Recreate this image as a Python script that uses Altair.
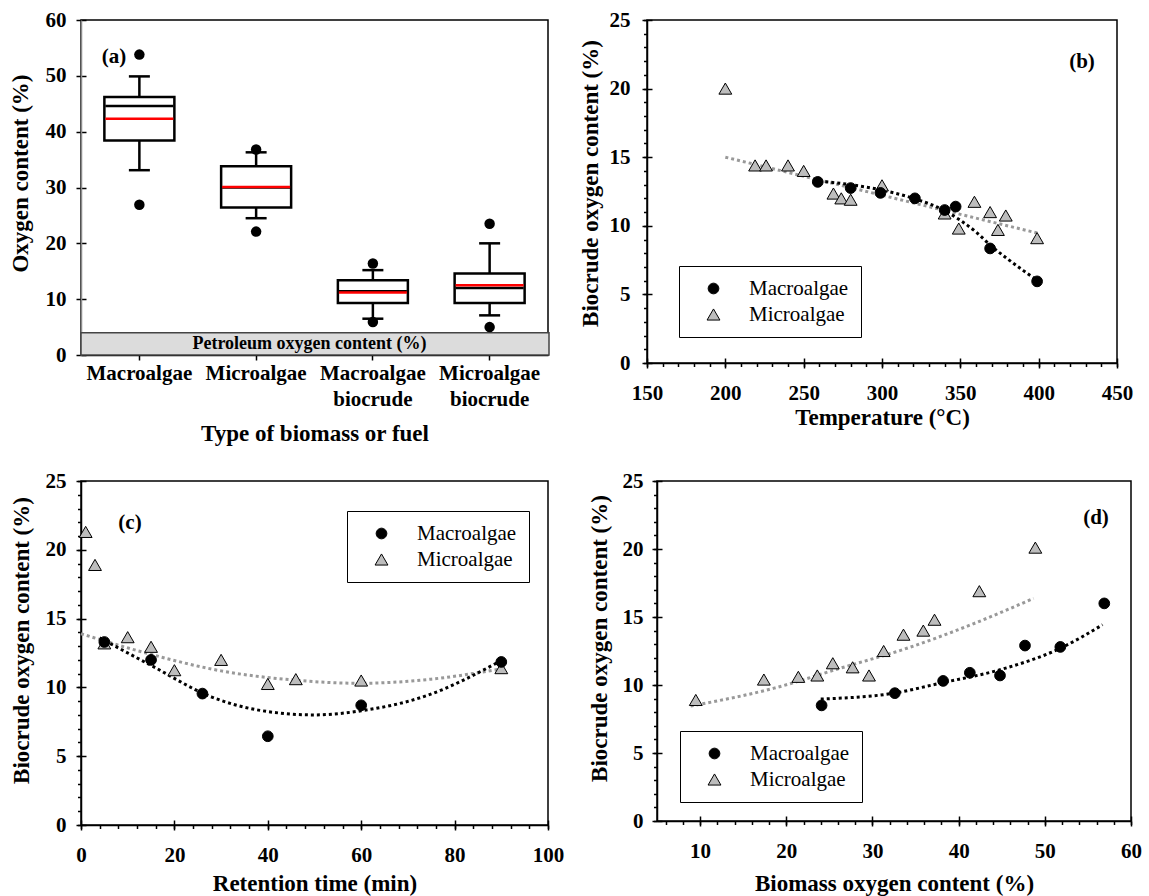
import altair as alt
import pandas as pd

FONT = "Liberation Serif"

# ---------------- Panel (a): box plots ----------------
categories = ["Macroalgae", "Microalgae", "Macroalgae biocrude", "Microalgae biocrude"]
box_q1 = [38.4, 26.4, 9.3, 9.3]
box_q3 = [46.2, 33.8, 13.4, 14.6]
box_median = [44.6, 30.0, 11.4, 12.0]
box_mean = [42.3, 30.1, 11.2, 12.5]
whisker_low = [33.1, 24.5, 6.5, 7.1]
whisker_high = [49.9, 36.3, 15.2, 20.0]
outlier_cat = ["Macroalgae", "Macroalgae", "Microalgae", "Microalgae",
               "Macroalgae biocrude", "Macroalgae biocrude",
               "Microalgae biocrude", "Microalgae biocrude"]
outlier_val = [53.8, 26.9, 36.8, 22.1, 16.4, 5.9, 23.5, 5.0]
petroleum_range = [0, 4]
a_yticks = [0, 10, 20, 30, 40, 50, 60]

# ---------------- Panel (b): temperature ----------------
b_macro_x = [259, 280, 299, 321, 340, 347, 369, 399]
b_macro_y = [13.2, 12.75, 12.4, 12.0, 11.15, 11.4, 8.35, 5.95]
b_micro_x = [200, 219, 226, 240, 250, 269, 274, 280, 300, 340, 349, 359, 369, 374, 379, 399]
b_micro_y = [20.0, 14.4, 14.4, 14.4, 14.0, 12.35, 12.0, 11.9, 12.95, 10.9, 9.8, 11.75, 11.0, 9.7, 10.75, 9.1]
b_trend_micro_x = [200, 400]
b_trend_micro_y = [15.0, 9.45]
b_trend_macro_x = [260, 280, 300, 320, 340, 350, 360, 370, 380, 390, 400]
b_trend_macro_y = [13.25, 13.0, 12.6, 12.0, 11.1, 10.4, 9.55, 8.5, 7.6, 6.75, 5.95]
b_xticks = [150, 200, 250, 300, 350, 400, 450]
b_xminor = list(range(150, 451, 10))

# ---------------- Panel (c): retention time ----------------
c_macro_x = [5, 15, 26, 40, 60, 90]
c_macro_y = [13.3, 12.0, 9.55, 6.45, 8.7, 11.85]
c_micro_x = [1, 3, 5, 10, 15, 20, 30, 40, 46, 60, 90]
c_micro_y = [21.3, 18.9, 13.2, 13.65, 12.95, 11.25, 12.0, 10.25, 10.6, 10.5, 11.4]
c_trend_micro_x = [0, 15, 30, 45, 60, 75, 90]
c_trend_micro_y = [13.9, 12.4, 11.2, 10.55, 10.3, 10.6, 11.35]
c_trend_macro_x = [4, 15, 28, 38, 50, 60, 74, 90]
c_trend_macro_y = [13.6, 11.6, 9.3, 8.35, 8.0, 8.3, 9.4, 11.95]
c_xticks = [0, 20, 40, 60, 80, 100]
c_xminor = list(range(0, 101, 4))

# ---------------- Panel (d): biomass oxygen ----------------
d_macro_x = [24.1, 32.6, 38.2, 41.3, 44.8, 47.7, 51.8, 56.9]
d_macro_y = [8.5, 9.4, 10.3, 10.9, 10.7, 12.9, 12.8, 16.0]
d_micro_x = [9.5, 17.4, 21.4, 23.6, 25.4, 27.7, 29.6, 31.3, 33.6, 35.9, 37.2, 42.4, 48.9]
d_micro_y = [8.9, 10.4, 10.6, 10.7, 11.6, 11.3, 10.7, 12.5, 13.7, 14.0, 14.8, 16.9, 20.1]
d_trend_micro_x = [8.9, 18.6, 26.3, 34.0, 41.7, 48.7]
d_trend_micro_y = [8.45, 9.77, 11.24, 12.7, 14.5, 16.37]
d_trend_macro_x = [24.0, 32.5, 37.9, 44.8, 51.8, 56.7]
d_trend_macro_y = [8.97, 9.4, 10.14, 11.12, 12.7, 14.43]
d_xticks = [10, 20, 30, 40, 50, 60]
d_xminor = list(range(6, 61, 2))

bio_yticks = [0, 5, 10, 15, 20, 25]
bio_yminor = list(range(0, 26, 1))
series_names = ["Macroalgae", "Microalgae"]

# =====================================================
WA, HA = 467, 335
box_df = pd.DataFrame(dict(cat=categories, q1=box_q1, q3=box_q3, med=box_median,
                           mean=box_mean, wlo=whisker_low, whi=whisker_high))
out_df = pd.DataFrame(dict(cat=outlier_cat, v=outlier_val))
pet_df = pd.DataFrame(dict(lo=[petroleum_range[0]], hi=[petroleum_range[1]],
                           mid=[(petroleum_range[0] + petroleum_range[1]) / 2],
                           label=["Petroleum oxygen content (%)"]))
tag_a = pd.DataFrame(dict(t=["(a)"]))

ysc_a = alt.Scale(domain=[0, 60], nice=False, zero=True)
xsc_a = alt.Scale(domain=categories, paddingInner=0, paddingOuter=0)

x_main_a = alt.Axis(orient="bottom", title="Type of biomass or fuel", labelAngle=0,
                    labelExpr="split(datum.label, ' ')", labelBaseline="top",
                    labelLineHeight=26, labelFontSize=21, labelPadding=2, tickSize=5,
                    labelOverlap=False, titleY=78, titleBaseline="middle")
y_main_a = alt.Axis(orient="left", values=a_yticks, title="Oxygen content (%)",
                    domainColor="#8c8c8c", tickSize=5, labelPadding=10,
                    titleX=-61, titleY=153, titleAngle=270, titleBaseline="middle",
                    titleAlign="center")
x_in_a = alt.Axis(orient="bottom", offset=-5, tickSize=5, labels=False, domain=False, title=None)
y_in_a = alt.Axis(orient="left", offset=-5, values=a_yticks, tickSize=5, labels=False,
                  domain=False, title=None)

band = alt.Chart(pet_df).mark_rect(fill="#dcdcdc", stroke="#444444", strokeWidth=1.5).encode(
    x=alt.value(0), x2=alt.value(WA + 1),
    y=alt.Y("lo:Q", scale=ysc_a, axis=None), y2="hi:Q")
pet_text = alt.Chart(pet_df).mark_text(font=FONT, fontWeight="bold", fontSize=18, color="black").encode(
    x=alt.value(WA / 2 - 5), y=alt.Y("mid:Q", scale=ysc_a, axis=None), text="label:N")
wl = alt.Chart(box_df).mark_rule(color="black", strokeWidth=2.5).encode(
    x=alt.X("cat:N", scale=xsc_a, axis=x_in_a),
    y=alt.Y("wlo:Q", scale=ysc_a, axis=y_in_a), y2="q1:Q")
wh = alt.Chart(box_df).mark_rule(color="black", strokeWidth=2.5).encode(
    x=alt.X("cat:N", scale=xsc_a, axis=None),
    y=alt.Y("q3:Q", scale=ysc_a, axis=None), y2="whi:Q")
boxes = alt.Chart(box_df).mark_bar(size=70, fill="white", stroke="black", strokeWidth=2.5).encode(
    x=alt.X("cat:N", scale=xsc_a, axis=x_main_a),
    y=alt.Y("q1:Q", scale=ysc_a, axis=y_main_a), y2="q3:Q")
cap_lo = alt.Chart(box_df).mark_tick(size=21, thickness=2.5, color="black", opacity=1).encode(
    x=alt.X("cat:N", scale=xsc_a, axis=None), y=alt.Y("wlo:Q", scale=ysc_a, axis=None))
cap_hi = alt.Chart(box_df).mark_tick(size=21, thickness=2.5, color="black", opacity=1).encode(
    x=alt.X("cat:N", scale=xsc_a, axis=None), y=alt.Y("whi:Q", scale=ysc_a, axis=None))
med = alt.Chart(box_df).mark_tick(size=68, thickness=2.5, color="black", opacity=1).encode(
    x=alt.X("cat:N", scale=xsc_a, axis=None), y=alt.Y("med:Q", scale=ysc_a, axis=None))
mean = alt.Chart(box_df).mark_tick(size=68, thickness=2.5, color="#ff0000", opacity=1).encode(
    x=alt.X("cat:N", scale=xsc_a, axis=None), y=alt.Y("mean:Q", scale=ysc_a, axis=None))
outl = alt.Chart(out_df).mark_circle(size=110, color="black", opacity=1).encode(
    x=alt.X("cat:N", scale=xsc_a, axis=None), y=alt.Y("v:Q", scale=ysc_a, axis=None))
tag_a_ch = alt.Chart(tag_a).mark_text(font=FONT, fontWeight="bold", fontSize=21, color="black").encode(
    x=alt.value(33), y=alt.value(37), text="t:N")

panel_a = alt.layer(band, pet_text, wl, wh, boxes, cap_lo, cap_hi, med, mean, outl, tag_a_ch).resolve_axis(
    x="independent", y="independent").properties(width=WA, height=HA)


def scatter_panel(mx, my, ux, uy, tgx, tgy, tbx, tby, xdom, xmaj, xmin, xtitle, ytitle,
                  W, H, leg_xy, tag, tag_xy, ylab_pad, title_x, title_y, xtitle_y):
    pts = pd.DataFrame(dict(
        x=list(ux) + list(mx), y=list(uy) + list(my),
        series=["Microalgae"] * len(ux) + ["Macroalgae"] * len(mx)))
    tg = pd.DataFrame(dict(x=tgx, y=tgy))
    tb = pd.DataFrame(dict(x=tbx, y=tby))
    xs = alt.Scale(domain=xdom, nice=False, zero=False)
    ys = alt.Scale(domain=[0, 25], nice=False, zero=True)
    leg = alt.Legend(title=None, orient="none", legendX=leg_xy[0], legendY=leg_xy[1],
                     strokeColor="black", fillColor="white", padding=12, symbolOffset=12,
                     labelOffset=25, symbolStrokeWidth=1, labelFont=FONT, labelFontSize=21,
                     labelFontWeight="normal", labelColor="black", rowPadding=4)
    x_main = alt.Axis(orient="bottom", values=xmaj, title=xtitle, tickSize=5, labelPadding=14,
                      labelFlush=False, titleY=xtitle_y, titleBaseline="middle")
    y_main = alt.Axis(orient="left", values=bio_yticks, title=ytitle, tickSize=5,
                      labelPadding=ylab_pad, titleX=title_x, titleY=title_y, titleAngle=270,
                      titleBaseline="middle", titleAlign="center")
    x_minor = alt.Axis(orient="bottom", values=xmin, tickSize=3.5, labels=False, domain=False, title=None)
    y_minor = alt.Axis(orient="left", values=bio_yminor, tickSize=3.5, labels=False, domain=False, title=None)
    x_in = alt.Axis(orient="bottom", values=xmaj, offset=-5, tickSize=5, labels=False, domain=False, title=None)
    y_in = alt.Axis(orient="left", values=bio_yticks, offset=-5, tickSize=5, labels=False, domain=False, title=None)

    gray = alt.Chart(tg).mark_line(color="#999999", strokeWidth=3, strokeDash=[3, 3],
                                   interpolate="monotone").encode(
        x=alt.X("x:Q", scale=xs, axis=x_minor), y=alt.Y("y:Q", scale=ys, axis=y_minor))
    black = alt.Chart(tb).mark_line(color="black", strokeWidth=3, strokeDash=[3, 3],
                                    interpolate="monotone").encode(
        x=alt.X("x:Q", scale=xs, axis=x_in), y=alt.Y("y:Q", scale=ys, axis=y_in))
    points = alt.Chart(pts).mark_point(filled=True, strokeWidth=1, opacity=1).encode(
        x=alt.X("x:Q", scale=xs, axis=x_main),
        y=alt.Y("y:Q", scale=ys, axis=y_main),
        shape=alt.Shape("series:N", scale=alt.Scale(domain=series_names, range=["circle", "triangle-up"]), legend=leg),
        fill=alt.Fill("series:N", scale=alt.Scale(domain=series_names, range=["black", "#bdbdbd"]), legend=leg),
        stroke=alt.Stroke("series:N", scale=alt.Scale(domain=series_names, range=["black", "black"]), legend=leg),
        size=alt.Size("series:N", scale=alt.Scale(domain=series_names, range=[115, 165]), legend=leg),
    )
    tag_df = pd.DataFrame(dict(t=[tag]))
    tag_ch = alt.Chart(tag_df).mark_text(font=FONT, fontWeight="bold", fontSize=21, color="black").encode(
        x=alt.value(tag_xy[0]), y=alt.value(tag_xy[1]), text="t:N")
    return alt.layer(gray, black, points, tag_ch).resolve_axis(
        x="independent", y="independent").properties(width=W, height=H)


YT = "Biocrude oxygen content (%)"
panel_b = scatter_panel(b_macro_x, b_macro_y, b_micro_x, b_micro_y,
                        b_trend_micro_x, b_trend_micro_y, b_trend_macro_x, b_trend_macro_y,
                        [150, 450], b_xticks, b_xminor, "Temperature (°C)", YT,
                        470, 343, (32, 246), "(b)", (435, 42), 12, -57, 163, 54)
panel_c = scatter_panel(c_macro_x, c_macro_y, c_micro_x, c_micro_y,
                        c_trend_micro_x, c_trend_micro_y, c_trend_macro_x, c_trend_macro_y,
                        [0, 100], c_xticks, c_xminor, "Retention time (min)", YT,
                        467, 344, (266, 30), "(c)", (49, 42), 10, -60, 159, 58)
panel_d = scatter_panel(d_macro_x, d_macro_y, d_micro_x, d_micro_y,
                        d_trend_micro_x, d_trend_micro_y, d_trend_macro_x, d_trend_macro_y,
                        [5, 60], d_xticks, d_xminor, "Biomass oxygen content (%)", YT,
                        474, 340, (23, 250), "(d)", (439, 37), 9, -58, 157, 62)

ind = dict(shape="independent", fill="independent", stroke="independent", size="independent")
row1 = alt.hconcat(panel_a, panel_b, spacing=99, bounds="flush").resolve_scale(**ind).resolve_legend(**ind)
row2 = alt.hconcat(panel_c, panel_d, spacing=109, bounds="flush").resolve_scale(**ind).resolve_legend(**ind)

chart = alt.vconcat(row1, row2, spacing=23).resolve_scale(**ind).resolve_legend(**ind).properties(
    padding={"left": 8, "top": 8, "right": 0, "bottom": 0}, background="white"
).configure_view(
    stroke="black", strokeWidth=1.5
).configure_axis(
    grid=False, domainColor="black", tickColor="black", domainWidth=1.5, tickWidth=1.5,
    labelFont=FONT, labelFontSize=21, labelFontWeight="bold", labelColor="black",
    titleFont=FONT, titleFontSize=23, titleFontWeight="bold", titleColor="black"
)

chart.save("out.html", embed_options={"renderer": "svg", "actions": False})
